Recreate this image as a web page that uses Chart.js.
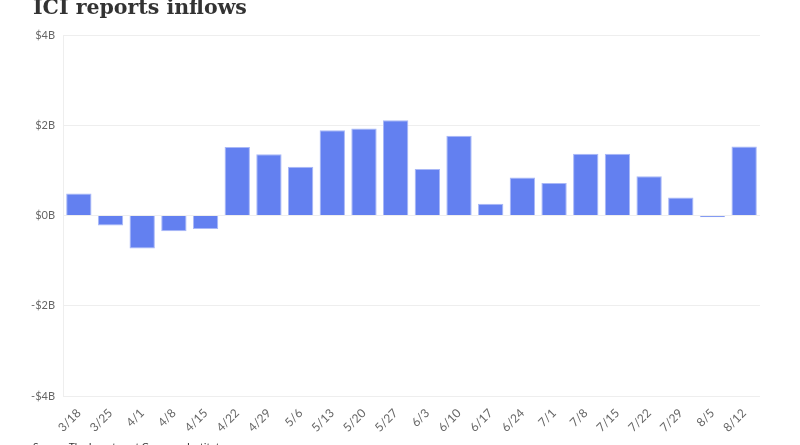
<!DOCTYPE html>
<html>
<head>
<meta charset="utf-8">
<script src="https://cdn.jsdelivr.net/npm/chart.js@4.4.1/dist/chart.umd.min.js"></script>
<style>
  html, body { margin: 0; padding: 0; background: #fff; overflow: hidden; }
  #wrap { position: relative; width: 800px; height: 445px; }
  #title { position: absolute; left: 33px; top: -5.5px; margin: 0; font-family: "DejaVu Serif", serif; font-weight: bold; font-size: 20.5px; color: #333; white-space: nowrap; }
  #source { position: absolute; left: 33px; top: 440px; margin: 0; font-family: Lato, sans-serif; font-size: 10.3px; color: #333; white-space: nowrap; }
  #cv { position: absolute; left: 0; top: 0; }
</style>
</head>
<body>
<div id="wrap">
  <canvas id="cv" width="800" height="445"></canvas>
  <div id="title">ICI reports inflows</div>
  <div id="source">Source: The Investment Company Institute</div>
</div>
<script>
const categories = ["3/18","3/25","4/1","4/8","4/15","4/22","4/29","5/6","5/13","5/20","5/27","6/3","6/10","6/17","6/24","7/1","7/8","7/15","7/22","7/29","8/5","8/12"];
const inflows = [0.49,-0.22,-0.73,-0.35,-0.30,1.52,1.36,1.08,1.89,1.93,2.11,1.03,1.77,0.26,0.84,0.72,1.37,1.37,0.87,0.40,-0.04,1.53];
const yTicks = [-4,-2,0,2,4];

function draw() {
  new Chart(document.getElementById('cv'), {
    type: 'bar',
    data: {
      labels: categories,
      datasets: [{
        data: inflows,
        backgroundColor: '#6380f0',
        borderColor: '#a9b8f7',
        borderWidth: 1,
        categoryPercentage: 0.8,
        barPercentage: 1.0
      }]
    },
    options: {
      responsive: false,
      animation: false,
      devicePixelRatio: 1,
      layout: { padding: { top: 35, right: 40, left: 0, bottom: 0 } },
      plugins: { legend: { display: false }, tooltip: { enabled: false }, title: { display: false } },
      scales: {
        x: {
          grid: { display: false, drawTicks: false },
          border: { display: false },
          ticks: {
            minRotation: 45, maxRotation: 45, autoSkip: false,
            color: '#666', padding: 10,
            font: { family: 'Lato', size: 12 }
          },
          afterFit(s) { s.height = 49; }
        },
        y: {
          min: -4, max: 4,
          afterBuildTicks(s) { s.ticks = yTicks.map(v => ({ value: v })); },
          grid: { color: '#eeeeee', drawTicks: false },
          border: { display: true, color: '#eeeeee' },
          ticks: {
            color: '#666', padding: 8,
            font: { family: 'Lato', size: 11 },
            callback: v => (v < 0 ? '-$' + Math.abs(v) : '$' + v) + 'B'
          },
          afterFit(s) { s.width = 63; }
        }
      }
    }
  });
}
Promise.all([document.fonts.load('11px Lato'), document.fonts.load('12px Lato')]).then(draw, draw);
</script>
</body>
</html>
